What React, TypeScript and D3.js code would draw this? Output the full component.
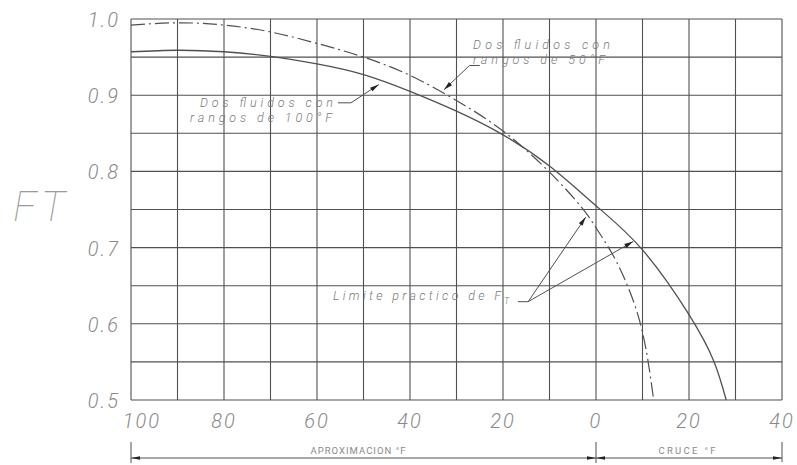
import React from "react";
import * as d3 from "d3";

// Signed temperature difference: negative = aproximación (°F), positive = cruce (°F)
const range50X = [-100, -90, -80, -70, -60, -50, -40, -30, -20, -10, -3, 0, 3, 6, 9, 11, 12.4];
const range50FT = [0.992, 0.995, 0.992, 0.983, 0.968, 0.95, 0.926, 0.893, 0.853, 0.799, 0.752, 0.726, 0.697, 0.661, 0.612, 0.558, 0.5];

const range100X = [-100, -90, -80, -70, -60, -50, -40, -30, -20, -10, 0, 10, 20, 25.4, 28];
const range100FT = [0.957, 0.959, 0.957, 0.951, 0.941, 0.927, 0.905, 0.879, 0.848, 0.807, 0.755, 0.697, 0.612, 0.55, 0.5];

const xGridValues = d3.range(-100, 41, 10);
const yGridValues = d3.range(0, 11).map((i) => 0.5 + i * 0.05);
const xTickValues = [-100, -80, -60, -40, -20, 0, 20, 40];
const xTickLabels = ["100", "80", "60", "40", "20", "0", "20", "40"];
const yTickValues = [0.5, 0.6, 0.7, 0.8, 0.9, 1.0];
const yTickLabels = ["0.5", "0.6", "0.7", "0.8", "0.9", "1.0"];

const W = 797;
const H = 465;
const LINE = "#505050";
const TEXT = "#8a8a8a";
const FONT = "Roboto, 'DejaVu Sans', sans-serif";

function arrowHead(tip: [number, number], from: [number, number], len = 9, half = 2.2) {
  const dx = tip[0] - from[0];
  const dy = tip[1] - from[1];
  const d = Math.hypot(dx, dy) || 1;
  const ux = dx / d, uy = dy / d;
  const bx = tip[0] - ux * len, by = tip[1] - uy * len;
  const px = -uy * half, py = ux * half;
  return `${tip[0]},${tip[1]} ${bx + px},${by + py} ${bx - px},${by - py}`;
}

export default function App() {
  const x = d3.scaleLinear().domain([-100, 40]).range([131, 782]);
  const y = d3.scaleLinear().domain([0.5, 1.0]).range([400, 19]);

  const line = d3
    .line<[number, number]>()
    .x((d) => x(d[0]))
    .y((d) => y(d[1]))
    .curve(d3.curveNatural);

  const path50 = line(range50X.map((v, i) => [v, range50FT[i]] as [number, number])) || "";
  const path100 = line(range100X.map((v, i) => [v, range100FT[i]] as [number, number])) || "";

  // annotation anchors (data units)
  const tip50: [number, number] = [x(-32.7), y(0.907)];
  const elbow50: [number, number] = [x(-27.2), y(0.939)];
  const end50: [number, number] = [x(-25.0), y(0.939)];

  const tip100: [number, number] = [x(-46.7), y(0.914)];
  const elbow100: [number, number] = [x(-52.7), y(0.89)];
  const end100: [number, number] = [x(-55.5), y(0.89)];

  const limOrigin: [number, number] = [x(-14.6), y(0.629)];
  const limStart: [number, number] = [x(-16.8), y(0.629)];
  const limTipA: [number, number] = [x(-2.2), y(0.74)];
  const limTipB: [number, number] = [x(8.0), y(0.708)];

  const dimY = 458;
  const x0 = x(-100), xm = x(0), x1 = x(40);

  return (
    <svg
      width={W}
      height={H}
      style={{ position: "absolute", left: 0, top: 0, background: "#fff" }}
    >
      <rect x={0} y={0} width={W} height={H} fill="#fff" />
      {/* grid */}
      <g stroke={LINE} strokeWidth={1.1}>
        {xGridValues.map((v) => (
          <line key={"vx" + v} x1={x(v)} x2={x(v)} y1={y(1.0)} y2={y(0.5)} />
        ))}
        {yGridValues.map((v) => (
          <line key={"hy" + v} x1={x(-100)} x2={x(40)} y1={y(v)} y2={y(v)} />
        ))}
      </g>

      {/* curves */}
      <path d={path100} fill="none" stroke={LINE} strokeWidth={1.3} />
      <path d={path50} fill="none" stroke={LINE} strokeWidth={1.2} strokeDasharray="14,4,2,4" />

      {/* y tick labels */}
      {yTickValues.map((v, i) => (
        <text
          key={"yt" + v}
          x={120}
          y={y(v) + 1}
          textAnchor="end"
          dominantBaseline="central"
          fontFamily={FONT}
          fontStyle="italic"
          fontWeight={300}
          fontSize={20}
          fill={TEXT}
          letterSpacing={2}
        >
          {yTickLabels[i]}
        </text>
      ))}

      {/* x tick labels */}
      {xTickValues.map((v, i) => (
        <text
          key={"xt" + i}
          x={v === -100 ? x(v) + 11 : x(v)}
          y={421}
          textAnchor="middle"
          dominantBaseline="central"
          fontFamily={FONT}
          fontStyle="italic"
          fontWeight={300}
          fontSize={20}
          fill={TEXT}
          letterSpacing={2}
        >
          {xTickLabels[i]}
        </text>
      ))}

      {/* FT axis title */}
      <text
        x={13}
        y={206}
        dominantBaseline="central"
        fontFamily={FONT}
        fontStyle="italic"
        fontWeight={100}
        fontSize={42}
        fill="#9a9a9a"
        textLength={52}
        lengthAdjust="spacing"
      >
        FT
      </text>

      {/* annotations */}
      <g fontFamily={FONT} fontStyle="italic" fontWeight={300} fontSize={12.5} fill="#7a7a7a">
        <text x={473} y={49} textLength={137} lengthAdjust="spacing">Dos fluidos con</text>
        <text x={473} y={64} textLength={132} lengthAdjust="spacing">rangos de 50°F</text>
        <text x={200} y={107} textLength={133} lengthAdjust="spacing">Dos fluidos con</text>
        <text x={190} y={122} textLength={142} lengthAdjust="spacing">rangos de 100°F</text>
        <text x={333} y={300} textLength={168} lengthAdjust="spacing">Limite practico de F</text>
        <text x={504} y={304} fontSize={9}>T</text>
      </g>

      <g stroke={LINE} strokeWidth={1} fill="none">
        <polyline points={`${end50[0]},${end50[1]} ${elbow50[0]},${elbow50[1]} ${tip50[0]},${tip50[1]}`} />
        <polyline points={`${end100[0]},${end100[1]} ${elbow100[0]},${elbow100[1]} ${tip100[0]},${tip100[1]}`} />
        <polyline points={`${limStart[0]},${limStart[1]} ${limOrigin[0]},${limOrigin[1]} ${limTipA[0]},${limTipA[1]}`} />
        <line x1={limOrigin[0]} y1={limOrigin[1]} x2={limTipB[0]} y2={limTipB[1]} />
      </g>
      <g fill="#222">
        <polygon points={arrowHead(tip50, elbow50)} />
        <polygon points={arrowHead(tip100, elbow100)} />
        <polygon points={arrowHead(limTipA, limOrigin)} />
        <polygon points={arrowHead(limTipB, limOrigin)} />
      </g>

      {/* dimension lines */}
      <g stroke={LINE} strokeWidth={1}>
        <line x1={x0} x2={x0} y1={442} y2={463} />
        <line x1={xm} x2={xm} y1={442} y2={463} />
        <line x1={x1} x2={x1} y1={442} y2={462} />
        <line x1={x0} x2={x1} y1={dimY} y2={dimY} />
      </g>
      <g fill="#222">
        <polygon points={arrowHead([x0, dimY], [x0 + 20, dimY], 9, 1.8)} />
        <polygon points={arrowHead([xm, dimY], [xm - 20, dimY], 9, 1.8)} />
        <polygon points={arrowHead([xm, dimY], [xm + 20, dimY], 9, 1.8)} />
        <polygon points={arrowHead([x1, dimY], [x1 - 20, dimY], 9, 1.8)} />
      </g>
      <text
        x={358}
        y={454}
        textAnchor="middle"
        fontFamily={FONT}
        fontSize={9.5}
        fill={TEXT}
        textLength={95}
        lengthAdjust="spacing"
      >
        APROXIMACION °F
      </text>
      <text
        x={687}
        y={454}
        textAnchor="middle"
        fontFamily={FONT}
        fontSize={9.5}
        fill={TEXT}
        textLength={57}
        lengthAdjust="spacing"
      >
        CRUCE °F
      </text>
    </svg>
  );
}
